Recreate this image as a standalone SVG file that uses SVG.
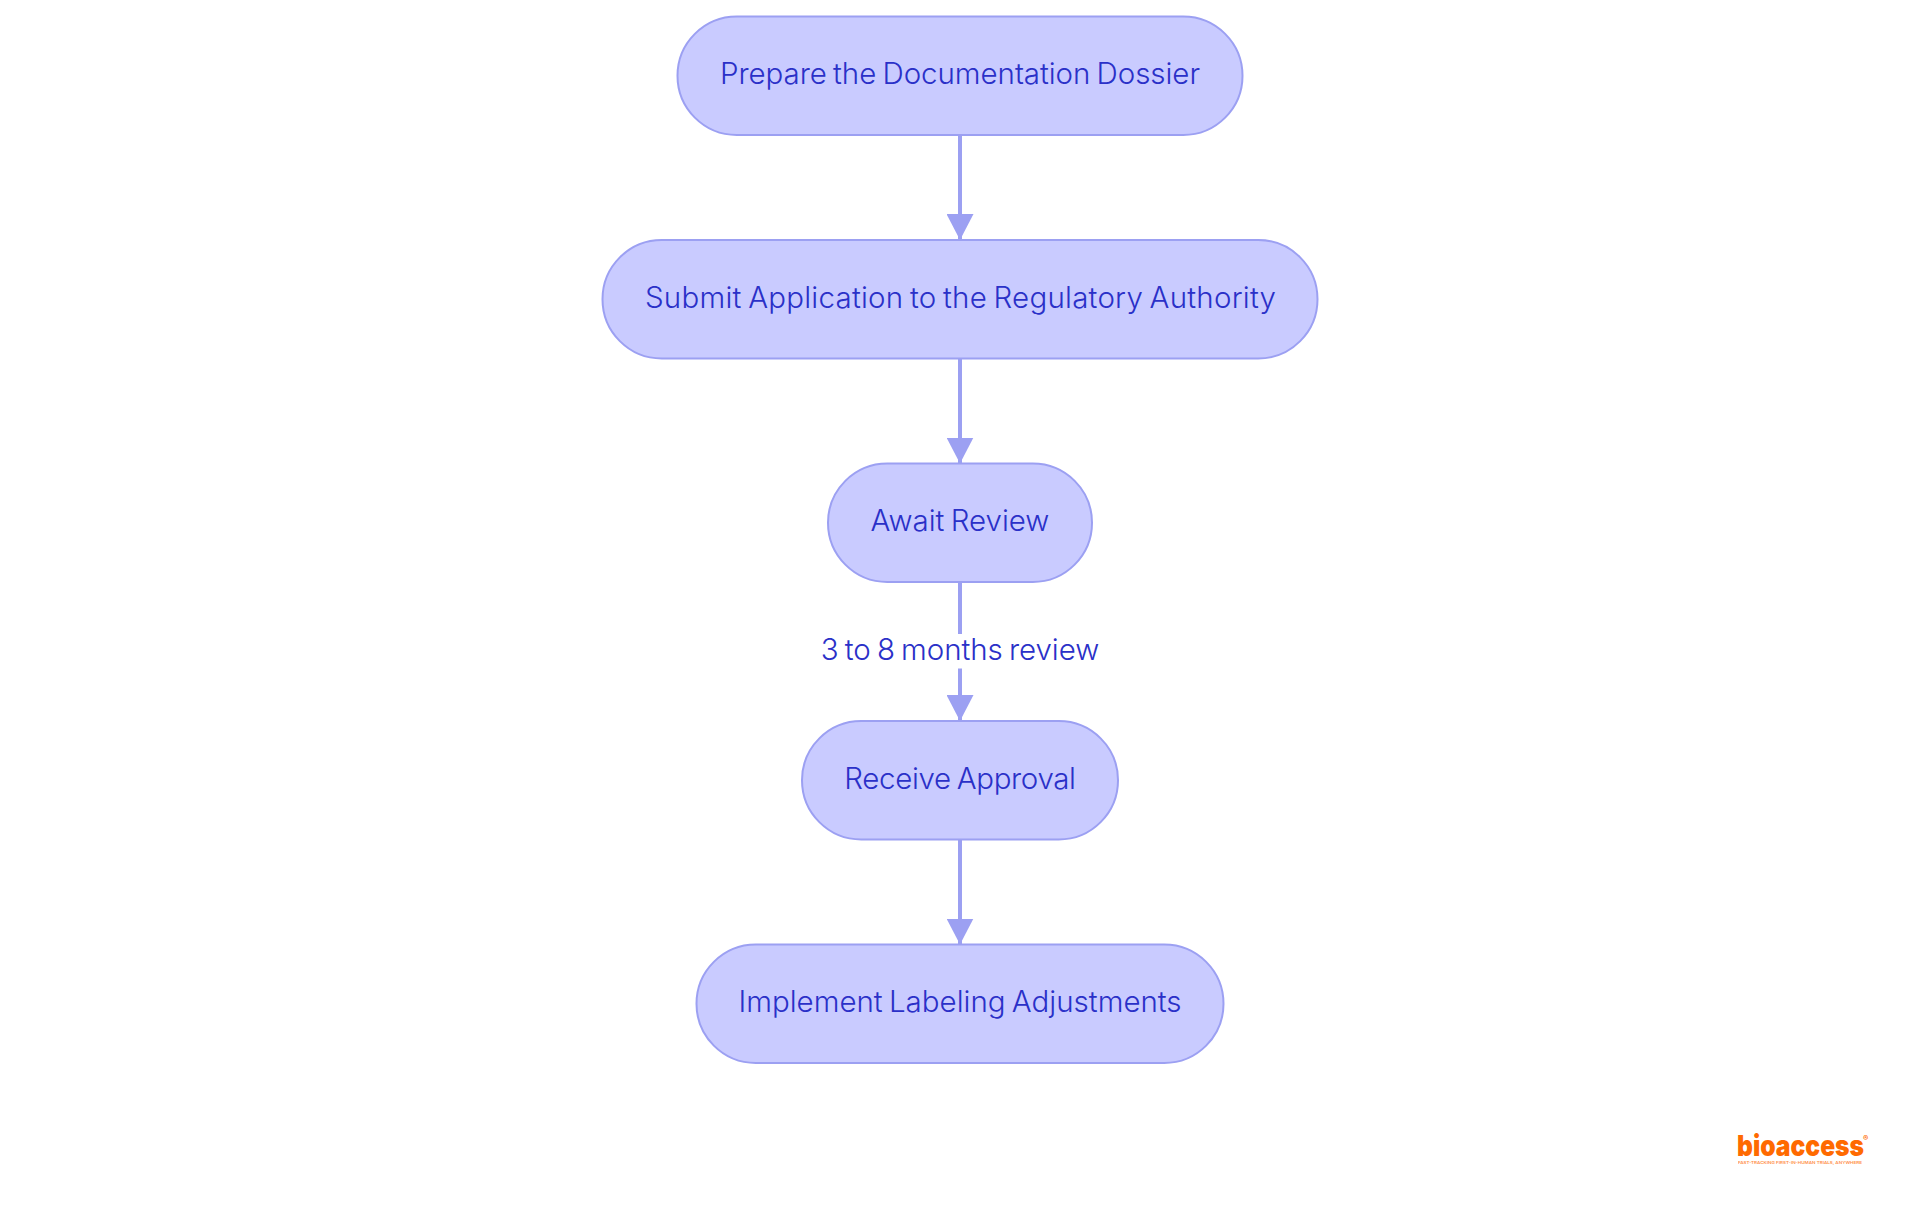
<svg xmlns="http://www.w3.org/2000/svg" width="1920" height="1215" viewBox="0 0 1920 1215">
<style>
.n{fill:#c9cbff;stroke:#9ca0f2;stroke-width:2}
.t{font-family:"Inter","Liberation Sans",sans-serif;font-size:29.500px;font-weight:350;word-spacing:-2px;fill:#2a30c8;text-anchor:start}
.e{fill:none;stroke:#9ca0f2;stroke-width:4}
</style>
<defs><marker id="a" markerUnits="userSpaceOnUse" markerWidth="27" markerHeight="27" refX="26" refY="13.5" orient="auto"><path d="M0 0L26 13.500L0 27Z" fill="#9ca0f2"/></marker></defs>
<rect width="1920" height="1215" fill="#fff"/>
<g id="connectors">
<path class="e" d="M960 135V240" marker-end="url(#a)"/>
<path class="e" d="M960 359V463.500" marker-end="url(#a)"/>
<path class="e" d="M960 582V721" marker-end="url(#a)"/>
<path class="e" d="M960 840V944.500" marker-end="url(#a)"/>
</g>
<g id="edge-label"><rect x="820" y="634" width="280" height="34.500" fill="#fff"/><text class="t" x="820.700" y="659.500" textLength="278.500" lengthAdjust="spacing">3 to 8 months review</text></g>
<g id="node1"><rect class="n" x="677.500" y="16.500" width="565" height="118.500" rx="59.250"/><text class="t" x="720" y="83.500" textLength="480" lengthAdjust="spacing">Prepare the Documentation Dossier</text></g>
<g id="node2"><rect class="n" x="602.500" y="240" width="715" height="118.500" rx="59.250"/><text class="t" x="645" y="307.500" textLength="631" lengthAdjust="spacing">Submit Application to the Regulatory Authority</text></g>
<g id="node3"><rect class="n" x="828" y="463.500" width="264" height="118.500" rx="59.250"/><text class="t" x="870.600" y="530.500" textLength="178.800" lengthAdjust="spacing">Await Review</text></g>
<g id="node4"><rect class="n" x="802" y="721" width="316" height="118.500" rx="59.250"/><text class="t" x="844.300" y="788.500" textLength="231.700" lengthAdjust="spacing">Receive Approval</text></g>
<g id="node5"><rect class="n" x="696.500" y="944.500" width="527" height="118.500" rx="59.250"/><text class="t" x="738.400" y="1011.500" textLength="443.200" lengthAdjust="spacing">Implement Labeling Adjustments</text></g>
<g id="logo" fill="#ff6a00" font-family="Inter,'Liberation Sans',sans-serif">
<text x="1737" y="1155.500" font-size="29" font-weight="900" textLength="127" lengthAdjust="spacingAndGlyphs">bioaccess</text>
<text x="1863" y="1141" font-size="8" font-weight="700">®</text>
<text x="1738" y="1164" font-size="4" font-weight="600" textLength="124" lengthAdjust="spacingAndGlyphs" opacity="0.75">FAST-TRACKING FIRST-IN-HUMAN TRIALS, ANYWHERE</text>
</g>
</svg>
